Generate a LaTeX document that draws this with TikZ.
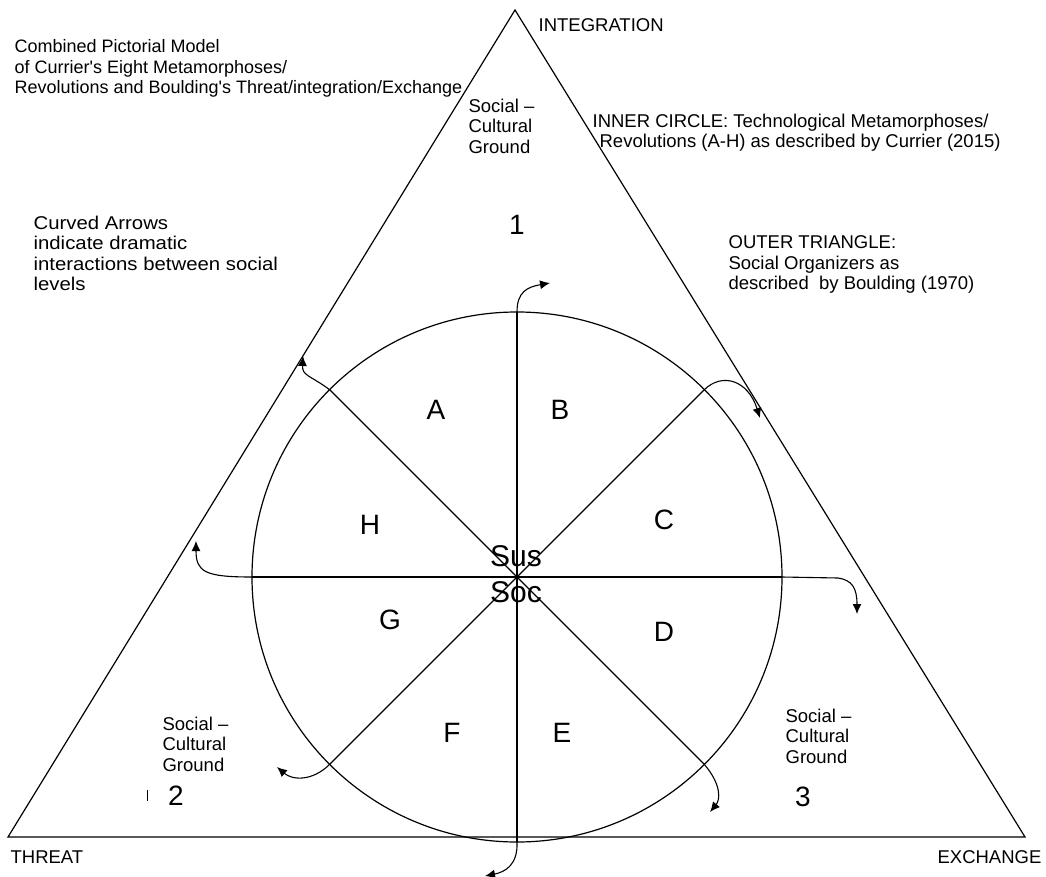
\documentclass[tikz,border=0pt]{standalone}
\usepackage{fontspec}
\setmainfont{Liberation Sans}
\usetikzlibrary{arrows.meta}
\tikzset{
  txt/.style={inner sep=0pt,anchor=north west,align=left,font=\fontsize{18.5}{20.5}\selectfont},
  big/.style={inner sep=0pt,font=\fontsize{28}{30}\selectfont},
  turn/.style={line width=1.1pt,-{Latex[length=10pt,width=9pt]}}
}
\begin{document}
\begin{tikzpicture}[x=1pt,y=-1pt,line width=1.2pt]
\useasboundingbox (0,0) rectangle (1046,877);

% outer triangle
\coordinate (top) at (515,10);
\coordinate (lft) at (8,837);
\coordinate (rgt) at (1025,837);
\draw (top) -- (lft) -- (rgt) -- cycle;

% inner circle and spokes
\coordinate (O) at (517,577);
\draw (O) circle (265);
\coordinate (N) at (517,312);
\coordinate (S) at (517,842);
\coordinate (W) at (252,577);
\coordinate (E) at (782,577);
\coordinate (NW) at (330,390);
\coordinate (NE) at (704,390);
\coordinate (SW) at (330,764);
\coordinate (SE) at (704,764);
\draw (N) -- (S);
\draw (W) -- (E);
\draw (NW) -- (SE);
\draw (NE) -- (SW);

% curved arrows
\coordinate (tN) at (550,283);
\coordinate (tNE) at (760,418);
\coordinate (tE) at (857,614);
\coordinate (tSE) at (710,812);
\coordinate (tS) at (485,876);
\coordinate (tSW) at (277,767);
\coordinate (tW) at (196,541);
\coordinate (tNW) at (303,356);
\draw[turn] (N) .. controls (517,292) and (527,287) .. (tN);
\draw[turn] (NE) .. controls (722,372) and (748,380) .. (tNE);
\draw[turn] (E) -- (838,578) .. controls (852,580) and (857,588) .. (tE);
\draw[turn] (SE) .. controls (722,785) and (720,800) .. (tSE);
\draw[turn] (S) .. controls (518,865) and (505,872) .. (tS);
\draw[turn] (SW) .. controls (312,782) and (292,780) .. (tSW);
\draw[turn] (W) .. controls (205,577) and (196,572) .. (tW);
\draw[turn] (NW) .. controls (310,375) and (302,376) .. (tNW);

% sectors
\node[big] (A) at (436,410) {A};
\node[big] (B) at (560,410) {B};
\node[big] (C) at (664,520) {C};
\node[big] (D) at (664,632) {D};
\node[big] (E) at (562,733) {E};
\node[big] (F) at (452,733) {F};
\node[big] (G) at (390,620) {G};
\node[big] (H) at (370,525) {H};
\node[inner sep=0pt,font=\fontsize{30}{32}\selectfont] (sus) at (516,556) {Sus};
\node[inner sep=0pt,font=\fontsize{30}{32}\selectfont] (soc) at (516,592) {Soc};

% corners
\node[txt] (integ) at (538,18) {INTEGRATION};
\node[txt] (threat) at (10,850) {THREAT};
\node[txt,anchor=north east] (exch) at (1042,850) {EXCHANGE};

% grounds
\node[txt] (gr1) at (468,98) {Social --\\Cultural\\Ground};
\node[big] (one) at (517,225) {1};
\node[txt] (gr2) at (162,716) {Social --\\Cultural\\Ground};
\node[big] (two) at (176,796) {2};
\draw[line width=0.6pt] (147,790) -- (147,801);
\node[txt] (gr3) at (785,708) {Social --\\Cultural\\Ground};
\node[big] (three) at (803,797) {3};

% notes
\node[txt,font=\fontsize{18}{20.5}\selectfont] (title) at (14,39) {Combined Pictorial Model\\of Currier\textquotesingle s Eight Metamorphoses/\\Revolutions and Boulding\textquotesingle s Threat/integration/Exchange};
\node[txt] (inner) at (592,113) {INNER CIRCLE: Technological Metamorphoses/\\\hspace{7pt}Revolutions (A-H) as described by Currier (2015)};
\node[txt,font=\fontsize{18.5}{20.5}\selectfont\addfontfeatures{FakeStretch=1.1}] (curved) at (33,215) {Curved Arrows\\indicate dramatic\\interactions between social\\levels};
\node[txt] (outer) at (728,235) {OUTER TRIANGLE:\\Social Organizers as\\described~ by Boulding (1970)};
\end{tikzpicture}
\end{document}
